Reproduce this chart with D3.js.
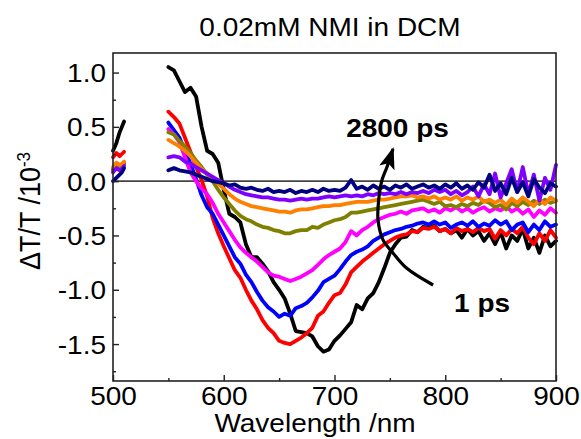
<!DOCTYPE html>
<html>
<head>
<meta charset="utf-8">
<script src="https://cdn.jsdelivr.net/npm/d3@7"></script>
<style>
  html, body { margin: 0; padding: 0; background: #fff; }
  svg { display: block; }
  text { font-family: "Liberation Sans", Arial, Helvetica, sans-serif; fill: #000; }
</style>
</head>
<body>
<svg id="chart" width="581" height="439"></svg>
<script>
// ---------------- DATA ----------------
const titleText = "0.02mM NMI in DCM";
const xLabel = "Wavelength /nm";
const xTicks = [500, 600, 700, 800, 900];
const xMinorTicks = [550, 650, 750, 850];
const yTicks = [-1.5, -1.0, -0.5, 0.0, 0.5, 1.0];
const yTickLabels = ["-1.5", "-1.0", "-0.5", "0.0", "0.5", "1.0"];
const yMinorTicks = [-1.75, -1.25, -0.75, -0.25, 0.25, 0.75];

const seriesNames = ["1 ps", "s2", "s3", "s4", "s5", "s6", "s7", "2800 ps"];
const seriesColors = ["#000000", "#ff0000", "#0000ff", "#ff00ff", "#808000", "#ff8000", "#8000ff", "#000080"];

// short blue-side segment
const wlLeft = [500, 503, 506, 508, 510];
const leftBlack   = [0.28, 0.35, 0.45, 0.50, 0.55];
const leftRed     = [0.22, 0.26, 0.23, 0.25, 0.27];
const leftBlue    = [0.10, 0.12, 0.14, 0.13, 0.16];
const leftMagenta = [0.12, 0.14, 0.13, 0.15, 0.17];
const leftOlive   = [0.11, 0.13, 0.12, 0.14, 0.16];
const leftOrange  = [0.13, 0.17, 0.15, 0.16, 0.18];
const leftViolet  = [0.08, 0.12, 0.10, 0.11, 0.14];
const leftNavy    = [0.00, 0.03, 0.06, 0.08, 0.12];

// main segment 550..900 nm, 5 nm step
const wlMain = [550,555,560,565,570,575,580,585,590,595,600,605,610,615,620,625,630,635,640,645,650,655,660,665,670,675,680,685,690,695,700,705,710,715,720,725,730,735,740,745,750,755,760,765,770,775,780,785,790,795,800,805,810,815,820,825,830,835,840,845,850,855,860,865,870,875,880,885,890,895,900];

const black = [1.05,1.02,0.92,0.82,0.86,0.78,0.50,0.28,0.25,0.17,-0.08,-0.30,-0.33,-0.38,-0.58,-0.70,-0.70,-0.76,-0.83,-0.93,-1.00,-1.08,-1.22,-1.38,-1.39,-1.40,-1.43,-1.52,-1.57,-1.55,-1.47,-1.42,-1.36,-1.30,-1.14,-1.18,-1.08,-1.03,-0.93,-0.80,-0.66,-0.58,-0.52,-0.51,-0.45,-0.47,-0.42,-0.43,-0.41,-0.46,-0.44,-0.48,-0.45,-0.52,-0.44,-0.50,-0.46,-0.55,-0.48,-0.58,-0.47,-0.62,-0.50,-0.55,-0.44,-0.62,-0.52,-0.66,-0.50,-0.60,-0.55];
const red = [0.64,0.59,0.53,0.40,0.27,0.13,0.01,-0.14,-0.34,-0.48,-0.60,-0.71,-0.82,-0.89,-1.00,-1.10,-1.18,-1.28,-1.35,-1.40,-1.47,-1.49,-1.50,-1.47,-1.44,-1.40,-1.35,-1.24,-1.20,-1.12,-1.05,-1.03,-0.95,-0.84,-0.79,-0.74,-0.70,-0.66,-0.62,-0.58,-0.55,-0.52,-0.50,-0.49,-0.46,-0.47,-0.43,-0.44,-0.42,-0.46,-0.44,-0.48,-0.43,-0.46,-0.44,-0.47,-0.43,-0.46,-0.44,-0.53,-0.45,-0.50,-0.44,-0.48,-0.42,-0.52,-0.58,-0.48,-0.55,-0.45,-0.52];
const blue = [0.54,0.47,0.40,0.28,0.16,0.02,-0.13,-0.24,-0.30,-0.40,-0.50,-0.60,-0.70,-0.76,-0.86,-0.93,-1.02,-1.10,-1.16,-1.20,-1.25,-1.22,-1.24,-1.17,-1.15,-1.12,-1.07,-1.01,-0.93,-0.90,-0.87,-0.81,-0.74,-0.68,-0.65,-0.63,-0.60,-0.55,-0.52,-0.49,-0.47,-0.45,-0.44,-0.42,-0.41,-0.39,-0.38,-0.40,-0.37,-0.40,-0.38,-0.43,-0.40,-0.38,-0.41,-0.37,-0.42,-0.39,-0.41,-0.36,-0.40,-0.37,-0.45,-0.40,-0.38,-0.47,-0.40,-0.45,-0.37,-0.42,-0.40];
const magenta = [0.48,0.43,0.36,0.22,0.08,0.00,-0.07,-0.12,-0.20,-0.30,-0.38,-0.46,-0.54,-0.61,-0.66,-0.70,-0.74,-0.79,-0.84,-0.87,-0.88,-0.90,-0.92,-0.90,-0.88,-0.85,-0.82,-0.77,-0.72,-0.68,-0.65,-0.62,-0.56,-0.46,-0.50,-0.45,-0.42,-0.38,-0.35,-0.33,-0.31,-0.30,-0.28,-0.30,-0.27,-0.26,-0.25,-0.28,-0.26,-0.29,-0.25,-0.27,-0.24,-0.28,-0.25,-0.29,-0.26,-0.24,-0.28,-0.25,-0.27,-0.23,-0.28,-0.25,-0.30,-0.26,-0.33,-0.27,-0.31,-0.25,-0.29];
const olive = [0.45,0.43,0.37,0.32,0.26,0.19,0.13,0.06,0.00,-0.08,-0.15,-0.21,-0.27,-0.32,-0.35,-0.37,-0.40,-0.42,-0.43,-0.45,-0.46,-0.48,-0.48,-0.46,-0.45,-0.45,-0.42,-0.43,-0.40,-0.38,-0.36,-0.35,-0.33,-0.29,-0.29,-0.28,-0.27,-0.26,-0.25,-0.24,-0.23,-0.22,-0.21,-0.20,-0.19,-0.18,-0.17,-0.19,-0.21,-0.19,-0.23,-0.22,-0.24,-0.21,-0.23,-0.20,-0.22,-0.18,-0.20,-0.24,-0.22,-0.26,-0.20,-0.23,-0.19,-0.22,-0.18,-0.21,-0.17,-0.20,-0.18];
const orange = [0.38,0.35,0.32,0.28,0.23,0.17,0.11,0.07,0.03,-0.02,-0.07,-0.12,-0.16,-0.19,-0.21,-0.23,-0.24,-0.25,-0.26,-0.27,-0.28,-0.28,-0.29,-0.27,-0.26,-0.26,-0.25,-0.24,-0.23,-0.23,-0.22,-0.22,-0.21,-0.20,-0.19,-0.19,-0.19,-0.18,-0.17,-0.17,-0.16,-0.15,-0.14,-0.14,-0.13,-0.15,-0.14,-0.16,-0.14,-0.17,-0.15,-0.17,-0.14,-0.18,-0.15,-0.17,-0.14,-0.19,-0.17,-0.20,-0.17,-0.22,-0.16,-0.20,-0.15,-0.19,-0.23,-0.17,-0.21,-0.15,-0.18];
const violet = [0.22,0.23,0.22,0.18,0.16,0.13,0.10,0.07,0.04,0.01,-0.02,-0.05,-0.08,-0.10,-0.12,-0.13,-0.14,-0.15,-0.15,-0.16,-0.17,-0.17,-0.18,-0.17,-0.16,-0.17,-0.16,-0.16,-0.15,-0.14,-0.15,-0.14,-0.13,-0.14,-0.13,-0.14,-0.12,-0.13,-0.11,-0.12,-0.11,-0.12,-0.10,-0.12,-0.10,-0.11,-0.09,-0.11,-0.08,-0.10,-0.08,-0.12,-0.09,-0.13,-0.10,-0.05,-0.14,-0.03,-0.12,0.07,-0.15,-0.02,0.11,-0.10,0.13,-0.12,0.06,-0.18,0.03,-0.08,0.15];
const navy = [0.10,0.12,0.10,0.09,0.08,0.06,0.04,0.02,0.00,-0.01,-0.02,-0.04,-0.03,-0.06,-0.07,-0.06,-0.08,-0.09,-0.07,-0.10,-0.09,-0.10,-0.08,-0.11,-0.09,-0.10,-0.08,-0.10,-0.07,-0.09,-0.08,-0.09,-0.06,0.01,-0.07,-0.05,-0.08,-0.04,-0.07,-0.05,-0.08,-0.04,-0.06,-0.03,-0.07,-0.05,-0.03,-0.06,-0.04,-0.07,-0.03,-0.06,-0.02,-0.07,-0.04,-0.08,-0.01,-0.06,0.06,-0.09,-0.02,-0.12,0.03,-0.10,-0.01,-0.14,0.02,-0.06,-0.11,-0.02,-0.05];

const mainSeries = [black, red, blue, magenta, olive, orange, violet, navy];
const leftSeries = [leftBlack, leftRed, leftBlue, leftMagenta, leftOlive, leftOrange, leftViolet, leftNavy];

// annotation arrow path (data coordinates: nm, dT/T) and labels
const arrowWl  = [789, 765, 752.8, 743.8, 739.3, 739.8, 742.9, 747.4, 752.8];
const arrowVal = [-0.956, -0.80, -0.661, -0.541, -0.357, -0.18, 0.011, 0.131, 0.297];
const labelLate = {text: "2800 ps", wl: 710.5, val: 0.41};
const labelEarly = {text: "1 ps", wl: 808, val: -1.205};

// ---------------- LAYOUT ----------------
const svg = d3.select("#chart");
const plot = {left: 113, right: 556, top: 53, bottom: 381};
const x = d3.scaleLinear().domain([500, 900]).range([plot.left, plot.right]);
const y = d3.scaleLinear().domain([-1.84, 1.18]).range([plot.bottom, plot.top]);
const stretch = 1.12;     // glyphs in the reference are horizontally wide
const fs = 25;

// title
svg.append("text")
  .attr("transform", `translate(330,36) scale(${stretch},1)`)
  .attr("text-anchor", "middle")
  .style("font-size", fs + "px")
  .text(titleText);

// zero line
svg.append("line")
  .attr("x1", x(500)).attr("x2", x(900))
  .attr("y1", y(0)).attr("y2", y(0))
  .attr("stroke", "#444").attr("stroke-width", 1.6);

// data lines
const line = d3.line().x(d => x(d[0])).y(d => y(d[1]));
const gLines = svg.append("g").attr("fill", "none")
  .attr("stroke-width", 3.8).attr("stroke-linejoin", "round").attr("stroke-linecap", "round");
mainSeries.forEach((vals, i) => {
  const ptsL = wlLeft.map((w, j) => [w, leftSeries[i][j]]);
  const ptsM = wlMain.map((w, j) => [w, vals[j]]);
  gLines.append("path").attr("d", line(ptsL)).attr("stroke", seriesColors[i]);
  gLines.append("path").attr("d", line(ptsM)).attr("stroke", seriesColors[i]);
});

// frame
svg.append("rect")
  .attr("x", plot.left).attr("y", plot.top)
  .attr("width", plot.right - plot.left).attr("height", plot.bottom - plot.top)
  .attr("fill", "none").attr("stroke", "#222").attr("stroke-width", 1.6);

// x axis
const xAxis = d3.axisBottom(x).tickValues(xTicks).tickSize(-6).tickFormat(d3.format("d"));
const gx = svg.append("g").attr("transform", `translate(0,${plot.bottom})`).call(xAxis);
gx.select(".domain").remove();
gx.selectAll(".tick line").attr("stroke", "#222").attr("stroke-width", 1.4);
gx.selectAll(".tick text").style("font-size", fs + "px")
  .attr("font-family", "Liberation Sans, Arial, sans-serif")
  .attr("y", null).attr("dy", null)
  .attr("transform", `translate(0,24) scale(${stretch},1)`);
const gxm = svg.append("g").attr("transform", `translate(0,${plot.bottom})`)
  .call(d3.axisBottom(x).tickValues(xMinorTicks).tickSize(-3).tickFormat(""));
gxm.select(".domain").remove();
gxm.selectAll(".tick line").attr("stroke", "#222").attr("stroke-width", 1.4);

// y axis
const yAxis = d3.axisLeft(y).tickValues(yTicks).tickSize(-6)
  .tickFormat((d) => yTickLabels[yTicks.indexOf(d)]);
const gy = svg.append("g").attr("transform", `translate(${plot.left},0)`).call(yAxis);
gy.select(".domain").remove();
gy.selectAll(".tick line").attr("stroke", "#222").attr("stroke-width", 1.4);
gy.selectAll(".tick text").style("font-size", fs + "px")
  .attr("font-family", "Liberation Sans, Arial, sans-serif")
  .attr("x", null).attr("dy", "0.36em")
  .attr("transform", `translate(-7,0) scale(${stretch},1)`);
const gym = svg.append("g").attr("transform", `translate(${plot.left},0)`)
  .call(d3.axisLeft(y).tickValues(yMinorTicks).tickSize(-3).tickFormat(""));
gym.select(".domain").remove();
gym.selectAll(".tick line").attr("stroke", "#222").attr("stroke-width", 1.4);

// x label
svg.append("text")
  .attr("transform", `translate(315,432) scale(${stretch},1)`)
  .attr("text-anchor", "middle")
  .style("font-size", fs + "px")
  .text(xLabel);

// y label (rotated)
const yl = svg.append("text")
  .attr("transform", `translate(40,211) scale(${stretch},1) rotate(-90)`)
  .attr("text-anchor", "middle")
  .style("font-size", "27px");
yl.append("tspan").text("\u0394T/T /10");
yl.append("tspan").attr("dy", "-0.55em").style("font-size", "17px").text("-3");

// arrow
const defs = svg.append("defs");
defs.append("marker").attr("id", "head")
  .attr("viewBox", "0 0 22 16").attr("refX", 20).attr("refY", 8)
  .attr("markerWidth", 22).attr("markerHeight", 16)
  .attr("markerUnits", "userSpaceOnUse").attr("orient", "auto")
  .append("path").attr("d", "M0,0 L22,8 L0,16 L5,8 Z").attr("fill", "#000");
const arrowLine = d3.line().curve(d3.curveCatmullRom).x(d => x(d[0])).y(d => y(d[1]));
svg.append("path")
  .attr("d", arrowLine(arrowWl.map((w, i) => [w, arrowVal[i]])))
  .attr("fill", "none").attr("stroke", "#000").attr("stroke-width", 3.2)
  .attr("marker-end", "url(#head)");

// labels
[labelLate, labelEarly].forEach(l => {
  svg.append("text")
    .attr("transform", `translate(${x(l.wl)},${y(l.val)}) scale(${stretch},1)`)
    .style("font-size", "25px").style("font-weight", "bold")
    .text(l.text);
});
</script>
</body>
</html>
